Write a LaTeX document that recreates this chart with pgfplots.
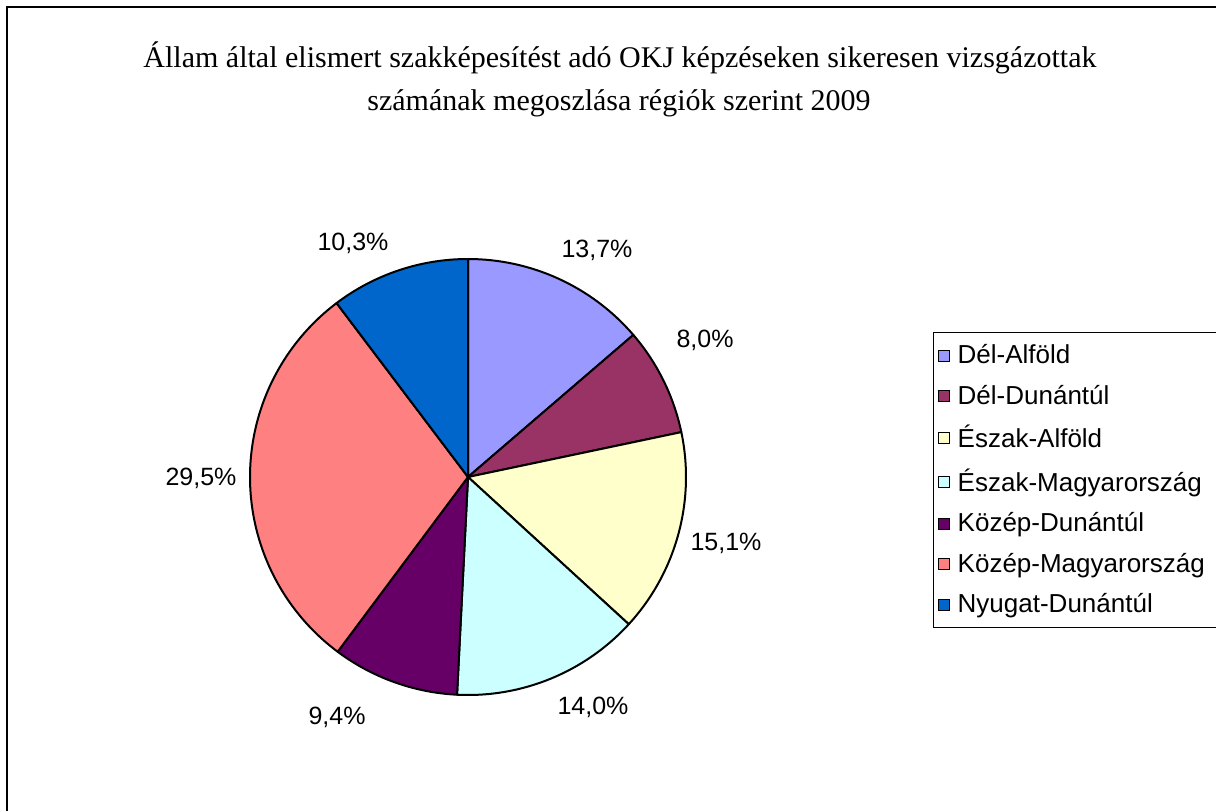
\documentclass[border=0pt]{standalone}
\usepackage{fontspec}
\setmainfont{Liberation Sans}
\newfontfamily\titlefont{Liberation Serif}
\usepackage{pgfplots}
\usepackage{pgfplotstable}
\pgfplotsset{compat=1.18}
\definecolor{c1}{HTML}{9999FF}
\definecolor{c2}{HTML}{993366}
\definecolor{c3}{HTML}{FFFFCC}
\definecolor{c4}{HTML}{CCFFFF}
\definecolor{c5}{HTML}{660066}
\definecolor{c6}{HTML}{FF8080}
\definecolor{c7}{HTML}{0066CC}

% value = share in percent; lx, ly = label centre in pixels (from top-left)
\pgfplotstableread[col sep=comma]{
name,value,lx,ly,col
Dél-Alföld,13.7,597,250,c1
Dél-Dunántúl,8.0,705,340,c2
Észak-Alföld,15.1,726,543,c3
Észak-Magyarország,14.0,593,707,c4
Közép-Dunántúl,9.4,337,717,c5
Közép-Magyarország,29.5,201,478,c6
Nyugat-Dunántúl,10.3,353,243,c7
}\pietable

\def\cum{0}
\pgfplotsforeachungrouped \i in {0,...,6}{%
  \pgfplotstablegetelem{\i}{value}\of\pietable \let\myv\pgfplotsretval
  \pgfmathsetmacro\s{90-3.6*\cum}%
  \pgfmathsetmacro\e{90-3.6*(\cum+\myv)}%
  \expandafter\xdef\csname sA\i\endcsname{\s}%
  \expandafter\xdef\csname eA\i\endcsname{\e}%
  \pgfmathsetmacro\c{\cum+\myv}\xdef\cum{\c}%
  \pgfplotstablegetelem{\i}{col}\of\pietable
  \expandafter\xdef\csname col\i\endcsname{\pgfplotsretval}%
  \pgfplotstablegetelem{\i}{name}\of\pietable
  \expandafter\global\expandafter\let\csname nm\i\endcsname\pgfplotsretval
  \pgfplotstablegetelem{\i}{lx}\of\pietable
  \expandafter\xdef\csname lx\i\endcsname{\pgfplotsretval}%
  \pgfplotstablegetelem{\i}{ly}\of\pietable
  \pgfmathsetmacro\yy{811-\pgfplotsretval}%
  \expandafter\xdef\csname ly\i\endcsname{\yy}%
  \pgfmathprintnumberto[fixed,fixed zerofill,precision=1,use comma,assume math mode=true]{\myv}\lbl
  \expandafter\global\expandafter\let\csname lbl\i\endcsname\lbl
}

\begin{document}
\begin{tikzpicture}
\begin{axis}[
  at={(0,0)}, anchor=south west,
  scale only axis, width=608pt, height=405.5pt,
  xmin=0, xmax=1216, ymin=0, ymax=811,
  hide axis, clip=false,
  legend style={at={(axis cs:933,479)}, anchor=north west, draw=black,
    line width=0.6pt, font=\fontsize{13}{15.6}\selectfont,
    row sep=5.1pt, inner xsep=2pt, inner ysep=4pt},
  legend cell align=left,
  legend image code/.code={\draw[#1,draw=black,line width=0.5pt] (1.5pt,-2.75pt) rectangle (7pt,2.75pt); \path (9pt,0pt);},
]
\pgfplotsinvokeforeach{0,...,6}{
  \filldraw[fill=\csname col#1\endcsname, draw=black, line width=1pt, line join=round]
    (axis cs:468,334) -- ++(\csname sA#1\endcsname:109pt)
    arc[start angle=\csname sA#1\endcsname, end angle=\csname eA#1\endcsname, radius=109pt] -- cycle;
  \node[font=\fontsize{12.5}{15}\selectfont] at (axis cs:\csname lx#1\endcsname,\csname ly#1\endcsname) {\csname lbl#1\endcsname\%};
  \edef\tmp{\noexpand\addlegendimage{fill=\csname col#1\endcsname}}\tmp
  \ifnum#1=3
    \addlegendentry{\csname nm#1\endcsname\hspace*{25pt}}
  \else
    \addlegendentry{\csname nm#1\endcsname}
  \fi
}
\node[font=\titlefont\fontsize{15}{18}\selectfont, anchor=base] at (axis cs:620,744)
  {Állam által elismert szakképesítést adó OKJ képzéseken sikeresen vizsgázottak};
\node[font=\titlefont\fontsize{15}{18}\selectfont, anchor=base] at (axis cs:619,701)
  {számának megoszlása régiók szerint 2009};
\draw[line width=1.25pt] (axis cs:7,0) -- (axis cs:7,804) -- (axis cs:1216,804);
\end{axis}
\pgfresetboundingbox
\useasboundingbox (0,0) rectangle (608pt,405.5pt);
\end{tikzpicture}
\end{document}
